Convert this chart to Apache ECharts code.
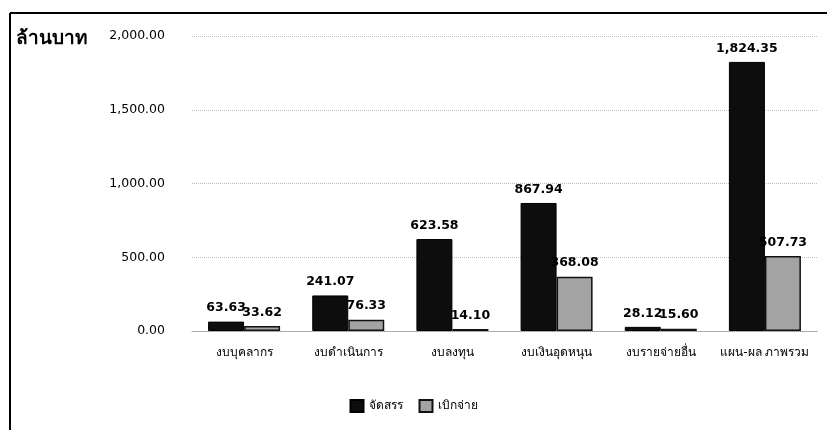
<!DOCTYPE html>
<html><head><meta charset="utf-8">
<script src="https://cdn.jsdelivr.net/npm/echarts@6/dist/echarts.min.js"></script>
<style>html,body{margin:0;padding:0;background:#fff}#c{width:827px;height:430px}</style>
</head><body><div id="c"></div>
<script>
const categories = ['งบบุคลากร','งบดำเนินการ','งบลงทุน','งบเงินอุดหนุน','งบรายจ่ายอื่น','แผน-ผล ภาพรวม'];
const allocated = [63.63, 241.07, 623.58, 867.94, 28.12, 1824.35];
const disbursed = [33.62, 76.33, 14.10, 368.08, 15.60, 507.73];
const seriesNames = ['จัดสรร','เบิกจ่าย'];
const yTicks = {min:0, max:2000, interval:500};
const fmt = v => v.toLocaleString('en-US',{minimumFractionDigits:2, maximumFractionDigits:2});
const font = 'Tahoma, "DejaVu Sans", sans-serif';
const chart = echarts.init(document.getElementById('c'));
chart.setOption({
  animation:false,
  textStyle:{fontFamily:font},
  graphic:[
    {type:'line', shape:{x1:10,y1:13,x2:827,y2:13}, style:{stroke:'#000',lineWidth:2}},
    {type:'line', shape:{x1:10,y1:13,x2:10,y2:430}, style:{stroke:'#000',lineWidth:2}},
    {type:'text', left:16, top:30, style:{text:'ล้านบาท', font:'bold 19px '+font, fill:'#000'}}
  ],
  grid:{left:192, right:10, top:36, bottom:99, containLabel:false},
  legend:{bottom:12, left:'center', itemWidth:13, itemHeight:12, itemGap:16,
    textStyle:{fontSize:12, color:'#000', fontFamily:font}, icon:'rect',
    data:seriesNames},
  xAxis:{type:'category', data:categories,
    axisLine:{show:true, lineStyle:{color:'#999', type:'dotted'}}, axisTick:{show:false},
    axisLabel:{color:'#000', fontSize:12, margin:16, interval:0}},
  yAxis:{type:'value', min:yTicks.min, max:yTicks.max, interval:yTicks.interval,
    axisLine:{show:false}, axisTick:{show:false},
    axisLabel:{color:'#000', fontSize:12.5, margin:27, formatter:fmt},
    splitLine:{lineStyle:{color:'#bbb', type:'dotted'}}},
  series:[
    {name:seriesNames[0], type:'bar', data:allocated, barWidth:36, barGap:'0%',
      itemStyle:{color:'#0d0d0d', borderColor:'#000', borderWidth:1},
      label:{show:true, position:'top', formatter:p=>fmt(p.value), color:'#000', fontSize:12.5, fontWeight:'bold', distance:7}},
    {name:seriesNames[1], type:'bar', data:disbursed, barWidth:36,
      itemStyle:{color:'#a3a3a3', borderColor:'#111', borderWidth:1.5},
      label:{show:true, position:'top', formatter:p=>fmt(p.value), color:'#000', fontSize:12.5, fontWeight:'bold', distance:7}}
  ]
});
</script></body></html>
